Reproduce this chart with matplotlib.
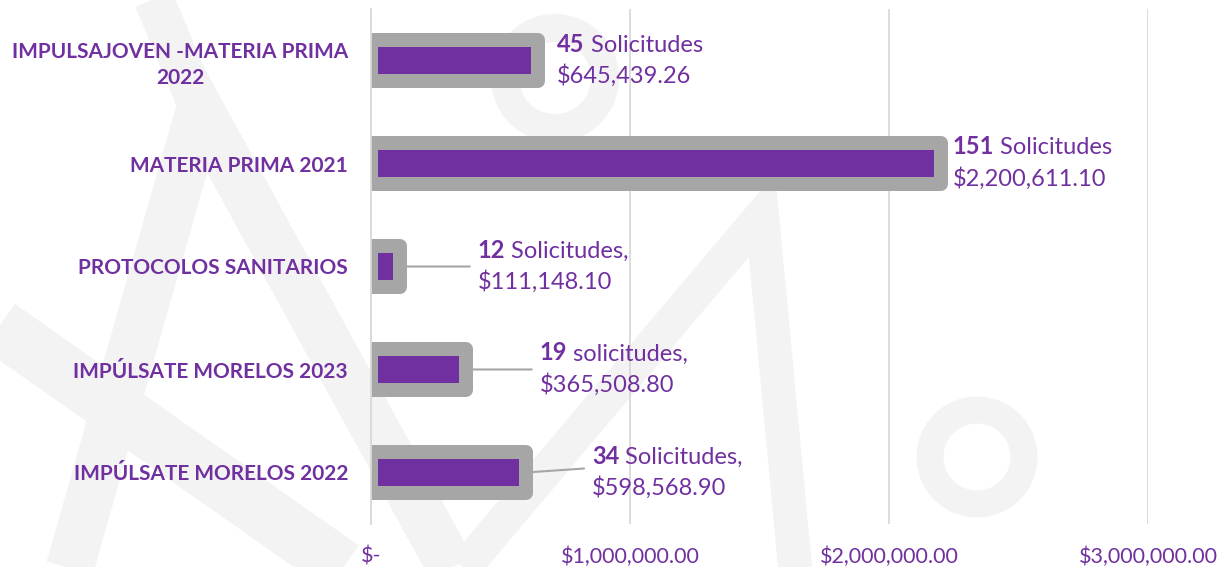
import matplotlib
matplotlib.use("Agg")
import matplotlib.pyplot as plt
from matplotlib.lines import Line2D
from matplotlib.patches import Circle
from matplotlib.ticker import FixedLocator, FixedFormatter

# ---- data ----
categories = ["IMPÚLSATE MORELOS 2022", "IMPÚLSATE MORELOS 2023",
              "PROTOCOLOS SANITARIOS", "MATERIA PRIMA 2021",
              "IMPULSAJOVEN -MATERIA PRIMA\n2022"]
amounts = [598568.90, 365508.80, 111148.10, 2200611.10, 645439.26]
requests = [34, 19, 12, 151, 45]
request_words = [" Solicitudes,", " solicitudes,", " Solicitudes,", " Solicitudes", " Solicitudes"]
amount_labels = ["$598,568.90", "$365,508.80", "$111,148.10", "$2,200,611.10", "$645,439.26"]
tick_values = [0, 1000000, 2000000, 3000000]
tick_labels = ["$-", "$1,000,000.00", "$2,000,000.00", "$3,000,000.00"]

# ---- style / layout ----
PURPLE = "#7030A0"
GREY = "#A6A6A6"
GRID = "#D9D9D9"
WM = "#F3F3F3"
label_dx = [66, 74, 78, 12, 19]        # pixels from bar end to label
leader = [True, True, True, False, False]
leader_dy = [4, 0, 0, 0, 0]

plt.rcParams['font.family'] = ['Lato', 'DejaVu Sans']

W, H = 1225, 567
fig = plt.figure(figsize=(W / 100, H / 100), dpi=100)
fig.patch.set_facecolor("white")

# faint watermark shapes (figure pixel coords, y measured from top)
def add_poly(pts, width):
    xs = [p[0] / W for p in pts]
    ys = [1 - p[1] / H for p in pts]
    fig.add_artist(Line2D(xs, ys, transform=fig.transFigure, color=WM,
                          lw=width * 0.72, solid_joinstyle='miter',
                          solid_capstyle='butt', zorder=-10))

add_poly([(55, 620), (200, 110), (480, 620)], 48)
add_poly([(-20, 313), (360, 580)], 55)
add_poly([(150, -10), (200, 110)], 40)
add_poly([(420, 620), (762, 215), (800, 620)], 34)
for (cx, cy, r, w) in [(555, 78, 50, 28), (977, 457, 47, 27)]:
    fig.add_artist(Circle((cx, H - cy), r, transform=None, fill=False, ec=WM,
                          lw=w * 0.72, zorder=-10))

ax = fig.add_axes([371 / W, 1 - 524 / H, (1148 - 371) / W, (524 - 9) / H])
ax.patch.set_alpha(0)

y = list(range(len(categories)))
ax.barh(y, amounts, height=0.4, color=PURPLE, edgecolor=GREY,
        linewidth=14 * 0.72, joinstyle='round', zorder=2)

ax.set_xlim(0, 3000000)
ax.set_ylim(-0.5, len(categories) - 0.5)
ax.xaxis.set_major_locator(FixedLocator(tick_values))
ax.xaxis.set_major_formatter(FixedFormatter(tick_labels))
ax.set_yticks(y)
ax.set_yticklabels(categories, fontsize=15, fontweight='bold', color=PURPLE,
                   multialignment='center', linespacing=1.35)
ax.tick_params(axis='y', length=0, pad=16.5)
ax.tick_params(axis='x', length=0, pad=16, labelsize=15.5, labelcolor=PURPLE)
ax.grid(axis='x', color=GRID, lw=1.3)
ax.set_axisbelow(True)
for s in ['top', 'right', 'bottom']:
    ax.spines[s].set_visible(False)
ax.spines['left'].set_color(GRID)
ax.spines['left'].set_linewidth(1.3)

FS = 17
for i in range(len(categories)):
    v = amounts[i]
    dx = label_dx[i]
    t1 = ax.annotate(str(requests[i]), xy=(v, i), xytext=(dx, 16.5), textcoords='offset pixels',
                     ha='left', va='center', fontsize=FS, fontweight='bold', color=PURPLE, zorder=5)
    ax.annotate(request_words[i], xy=(1, 0), xycoords=t1, ha='left', va='bottom',
                fontsize=FS, color=PURPLE, zorder=5)
    ax.annotate(amount_labels[i], xy=(v, i), xytext=(dx, -15.5), textcoords='offset pixels',
                ha='left', va='center', fontsize=FS, color=PURPLE, zorder=5)
    if leader[i]:
        ax.annotate("", xy=(v, i), xycoords='data', xytext=(dx - 8, leader_dy[i]),
                    textcoords='offset pixels',
                    arrowprops=dict(arrowstyle='-', color=GREY, lw=1.5, shrinkA=0, shrinkB=0),
                    zorder=1)

fig.savefig("out.png", dpi=100)
